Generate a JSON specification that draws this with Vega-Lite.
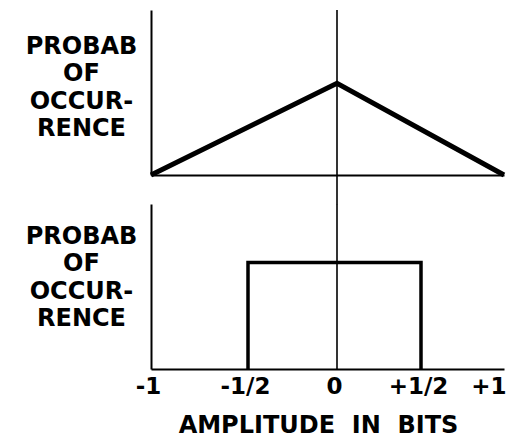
{
  "$schema": "https://vega.github.io/schema/vega-lite/v6.json",
  "padding": {"left": 25, "top": 9, "right": 12, "bottom": 5},
  "bounds": "flush",
  "spacing": 29,
  "config": {
    "view": {"stroke": null},
    "font": "DejaVu Sans",
    "axis": {"domainColor": "black", "domainWidth": 2, "ticks": false, "grid": false, "labelColor": "black", "titleColor": "black"}
  },
  "datasets": {
    "tri": [{"i": 0, "amp": -1, "p": 0}, {"i": 1, "amp": 0, "p": 1}, {"i": 2, "amp": 1, "p": 0}],
    "uni": [{"i": 0, "amp": -0.5, "p": 0}, {"i": 1, "amp": -0.5, "p": 1}, {"i": 2, "amp": 0.5, "p": 1}, {"i": 3, "amp": 0.5, "p": 0}],
    "centerTop": [{"amp": 0, "y1": 1.8, "y2": -0.32}],
    "centerBottom": [{"amp": 0, "y1": 1.55, "y2": 0}]
  },
  "vconcat": [
    {
      "width": 353,
      "height": 165,
      "layer": [
        {
          "data": {"name": "centerTop"},
          "mark": {"type": "rule", "color": "black", "strokeWidth": 1.6},
          "encoding": {
            "x": {"field": "amp", "type": "quantitative"},
            "y": {"field": "y1", "type": "quantitative"},
            "y2": {"field": "y2"}
          }
        },
        {
          "data": {"name": "tri"},
          "mark": {"type": "line", "color": "black", "strokeWidth": 5, "strokeJoin": "miter", "strokeCap": "butt"},
          "encoding": {
            "x": {"field": "amp", "type": "quantitative", "scale": {"domain": [-1, -0.5, 0, 0.5, 1], "range": [0, 97, 186, 270, 353], "nice": false, "zero": false},
              "axis": {"labels": false, "title": null}},
            "y": {"field": "p", "type": "quantitative", "scale": {"domain": [0, 1.8], "nice": false},
              "axis": {"labels": false, "title": ["PROBAB", "OF", "OCCUR-", "RENCE"], "titleAngle": 0, "titleAlign": "center", "titleBaseline": "middle", "titleX": -70, "titleY": 36, "titleFontSize": 24, "titleFontWeight": "bold", "titleLineHeight": 27.5}},
            "order": {"field": "i"}
          }
        }
      ]
    },
    {
      "width": 353,
      "height": 165,
      "layer": [
        {
          "data": {"name": "centerBottom"},
          "mark": {"type": "rule", "color": "black", "strokeWidth": 1.6},
          "encoding": {
            "x": {"field": "amp", "type": "quantitative"},
            "y": {"field": "y1", "type": "quantitative"},
            "y2": {"field": "y2"}
          }
        },
        {
          "data": {"name": "uni"},
          "mark": {"type": "line", "color": "black", "strokeWidth": 3.5, "strokeJoin": "miter", "strokeCap": "butt"},
          "encoding": {
            "x": {"field": "amp", "type": "quantitative", "scale": {"domain": [-1, -0.5, 0, 0.5, 1], "range": [0, 97, 186, 270, 353], "nice": false, "zero": false},
              "axis": {"values": [-1, -0.5, 0, 0.5, 1], "labelExpr": "datum.value == -1 ? '-1' : datum.value == -0.5 ? '-1/2' : datum.value == 0 ? '0' : datum.value == 0.5 ? '+1/2' : '+1'", "labelFontSize": 23, "labelFontWeight": "bold", "labelPadding": 6, "labelFlush": false, "labelOverlap": false,
                "labelAlign": {"condition": {"test": "datum.value == 1", "value": "right"}, "value": "center"},
                "labelOffset": {"condition": {"test": "datum.value == 1", "value": 2}, "value": -3},
                "title": "AMPLITUDE\u00a0\u00a0IN\u00a0\u00a0BITS", "titleFontSize": 24, "titleFontWeight": "bold", "titleX": 167, "titleY": 63, "titleBaseline": "alphabetic", "titleAlign": "center"}},
            "y": {"field": "p", "type": "quantitative", "scale": {"domain": [0, 1.55], "nice": false},
              "axis": {"labels": false, "title": ["PROBAB", "OF", "OCCUR-", "RENCE"], "titleAngle": 0, "titleAlign": "center", "titleBaseline": "middle", "titleX": -70, "titleY": 32, "titleFontSize": 24, "titleFontWeight": "bold", "titleLineHeight": 27.5}},
            "order": {"field": "i"}
          }
        }
      ]
    }
  ]
}
